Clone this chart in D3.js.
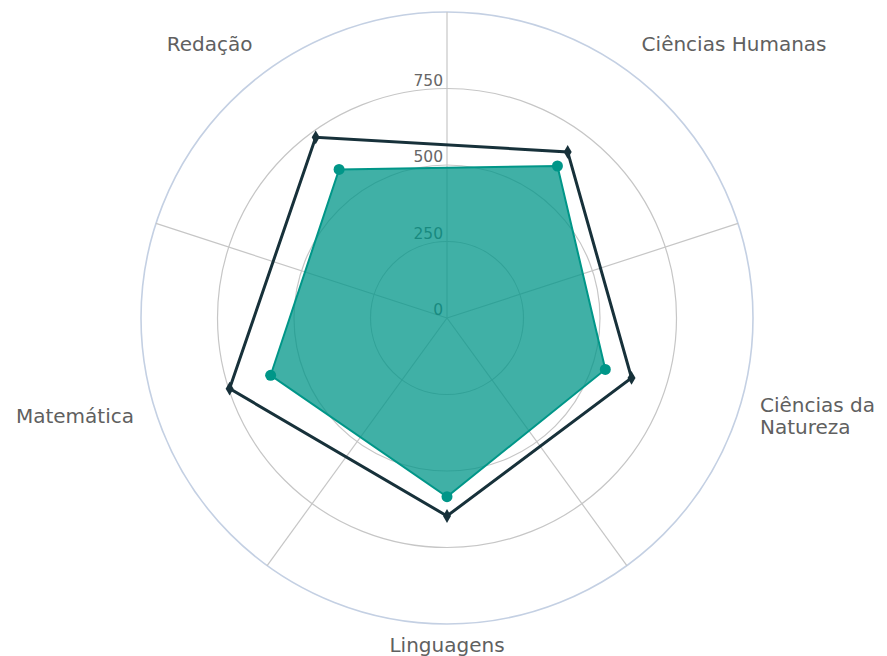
<!DOCTYPE html>
<html>
<head>
<meta charset="utf-8">
<script src="https://cdn.jsdelivr.net/npm/d3@7/dist/d3.min.js"></script>
<style>
  body { margin: 0; background: #fff; }
  svg { display: block; font-family: "DejaVu Sans", sans-serif; }
</style>
</head>
<body>
<div id="chart"></div>
<script>
// categories clockwise from top-right
const categories = ["Ciências Humanas", "Ciências da Natureza", "Linguagens", "Matemática", "Redação"];
const seriesDark = [671, 634, 647, 747, 730];
const seriesTeal = [614, 544, 584, 606, 600];
const tickValues = [0, 250, 500, 750, 1000];
const tickLabels = ["0", "250", "500", "750"];

const width = 887, height = 656;
const cx = 447, cy = 318, radius = 306;

const svg = d3.select("#chart").append("svg")
    .attr("width", width)
    .attr("height", height);

const g = svg.append("g")
    .attr("transform", `translate(${cx}, ${cy})`);

const rScale = d3.scaleLinear()
    .domain([0, 1000])
    .range([0, radius]);

const aScale = d3.scaleBand()
    .domain(categories)
    .range([0, 2 * Math.PI]);

const angleOf = c => aScale(c) + aScale.bandwidth() / 2;

// rings
g.selectAll("circle.ring")
    .data(tickValues)
    .enter()
  .append("circle")
    .attr("class", "ring")
    .attr("r", d => rScale(d))
    .attr("fill", "none")
    .attr("stroke", d => d === 1000 ? "#c4d0e3" : "#c6c6c6")
    .attr("stroke-width", d => d === 1000 ? 1.6 : 1.2);

// radial grid lines at band edges
g.selectAll("line.spoke")
    .data(categories)
    .enter()
  .append("line")
    .attr("class", "spoke")
    .attr("x1", 0)
    .attr("y1", 0)
    .attr("x2", d => rScale(1000) * Math.sin(aScale(d)))
    .attr("y2", d => -rScale(1000) * Math.cos(aScale(d)))
    .attr("stroke", "#c6c6c6")
    .attr("stroke-width", 1.2);

// tick labels
g.selectAll("text.tick")
    .data(tickLabels)
    .enter()
  .append("text")
    .attr("class", "tick")
    .attr("x", -4)
    .attr("y", d => -rScale(+d) - 3)
    .attr("text-anchor", "end")
    .attr("fill", "#666666")
    .style("font-size", "15.5px")
    .text(d => d);

const radialLine = d3.lineRadial()
    .angle((d, i) => angleOf(categories[i]))
    .radius(d => rScale(d))
    .curve(d3.curveLinearClosed);

// teal area
g.append("path")
    .datum(seriesTeal)
    .attr("d", radialLine)
    .attr("fill", "#009688")
    .attr("fill-opacity", 0.75)
    .attr("stroke", "#009688")
    .attr("stroke-width", 2);

g.selectAll("circle.teal")
    .data(seriesTeal)
    .enter()
  .append("circle")
    .attr("class", "teal")
    .attr("cx", (d, i) => rScale(d) * Math.sin(angleOf(categories[i])))
    .attr("cy", (d, i) => -rScale(d) * Math.cos(angleOf(categories[i])))
    .attr("r", 5.5)
    .attr("fill", "#009688");

// dark line
g.append("path")
    .datum(seriesDark)
    .attr("d", radialLine)
    .attr("fill", "none")
    .attr("stroke", "#17313a")
    .attr("stroke-width", 3);

g.selectAll("path.dark")
    .data(seriesDark)
    .enter()
  .append("path")
    .attr("class", "dark")
    .attr("d", d3.symbol().type(d3.symbolDiamond).size(55))
    .attr("transform", (d, i) => {
        let a = angleOf(categories[i]);
        return `translate(${rScale(d) * Math.sin(a)}, ${-rScale(d) * Math.cos(a)})`;
    })
    .attr("fill", "#17313a");

// category labels
const lineHeight = 22;
g.selectAll("text.cat")
    .data(categories)
    .enter()
  .append("text")
    .attr("class", "cat")
    .attr("fill", "#606060")
    .style("font-size", "20px")
    .each(function(d) {
        let a = angleOf(d);
        let s = Math.sin(a), c = Math.cos(a);
        let r = radius + 20;
        let anchor = s > 0.1 ? "start" : (s < -0.1 ? "end" : "middle");
        let sign = s > 0.1 ? 1 : (s < -0.1 ? -1 : 0);
        let x = r * s + sign * 3;
        let y = -r * c + 2 + 6 * -c;
        let lines = d === "Ciências da Natureza" ? ["Ciências da", "Natureza"] : [d];
        let t = d3.select(this).attr("text-anchor", anchor);
        lines.forEach((ln, k) => {
            t.append("tspan")
                .attr("x", x)
                .attr("y", y - (lines.length - 1) * lineHeight / 2 + k * lineHeight)
                .text(ln);
        });
    });
</script>
</body>
</html>
